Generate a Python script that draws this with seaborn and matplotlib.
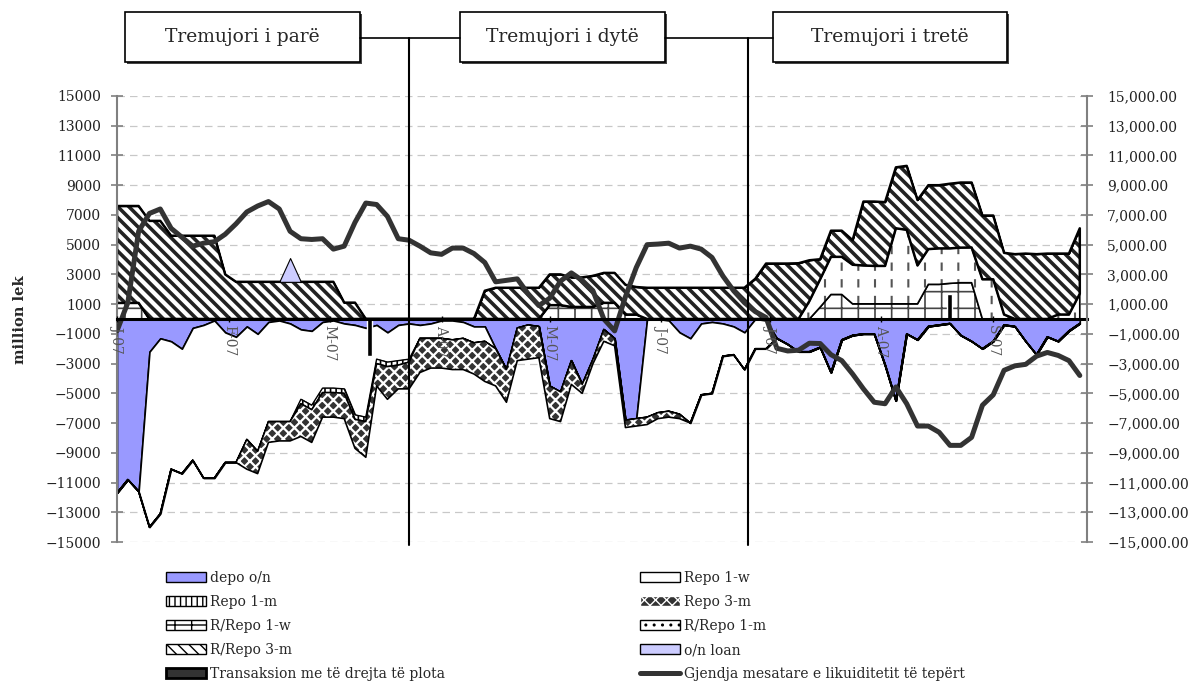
import numpy as np
import pandas as pd
import seaborn as sns
import matplotlib.pyplot as plt
import matplotlib as mpl
from matplotlib.patches import Rectangle, Patch
from matplotlib.lines import Line2D
from matplotlib.ticker import FuncFormatter

# one sample every 3 days, Jan 1 -> Sep 25 2007
dates = pd.date_range('2007-01-01', periods=90, freq='3D')

depo_on = [-11700, -10800, -11600, -2200, -1300, -1500, -2000, -600, -400, -100,
           -900, -1200, -500, -1000, -200, -100, -300, -700, -800, -200,
           -100, -300, -400, -600, -400, -900, -400, -300, -400, -300,
           -100, -100, -200, -500, -500, -2000, -3400, -600, -400, -500,
           -4500, -4900, -2800, -4400, -2700, -700, -1300, -6800, -6700, 0,
           0, -100, -900, -1300, -300, -200, -300, -500, -900, 0,
           -100, -1300, -1700, -2200, -2200, -1900, -3600, -1400, -1100, -1000,
           -1000, -3100, -5500, -1000, -1400, -500, -400, -300, -1100, -1500,
           -2000, -1500, -400, -500, -1500, -2400, -1200, -1500, -800, -300]

repo_1w = ([0, 0, 0, -11800, -11800, -8600, -8400, -8900, -10300, -10600,
            -8750, -8450, -7600, -7900, -6700, -6800, -6600, -4700, -5000, -4450,
            -4550, -4400, -6050, -6000, -2300, -2000, -2400, -2400, -900, -1000,
            -1200, -1300, -1100, -1100, -1000]
           + [0] * 14
           + [-6600, -6300, -6100, -5500, -5700, -4800, -4800, -2200, -1900, -2500,
              -2000, -1900]
           + [0] * 29)

repo_1m = [0] * 17 + [-300] * 10 + [-200] + [0] * 62

repo_3m = ([0] * 12
           + [-2000, -1500, -1400, -1300, -1300, -2200, -2200, -1650, -1650, -1700,
              -1950, -2400, -1500, -2200, -1600, -1800, -2300, -2000, -2000, -2000,
              -2100, -2100, -2700, -2500, -2200, -2200, -2300, -2100, -2200, -2000,
              -1600, -600, -300, -800, -500, -500, -500, -500, -400, -400, -300]
           + [0] * 37)

rrepo_1w = ([1080, 1080, 1080] + [0] * 37
            + [930, 930, 810, 810, 810, 1085, 1085, 300, 300]
            + [0] * 16
            + [800, 1650, 1650, 1020, 1020, 1020, 1020, 1020, 1020, 1020,
               2330, 2330, 2400, 2440, 2440]
            + [0] * 10)

rrepo_1m = ([0] * 64
            + [1200, 1870, 2530, 2530, 2630, 2580, 2550, 2550, 5080, 4980,
               2580, 2370, 2420, 2350, 2360, 2370, 2670, 2670, 300, 0,
               0, 0, 0, 300, 300, 1700])

rrepo_3m = ([6520, 6520, 6520, 6600, 6600, 5600, 5600, 5600, 5600, 5600, 3000]
            + [2500] * 10 + [1100, 1100] + [0] * 11 + [1900] + [2100] * 5
            + [2070, 2070, 1990, 1990, 2090, 2015, 2015, 2000, 1850]
            + [2100] * 10
            + [2700, 3730, 3730, 3730, 3750, 2750, 1350, 1760, 1760, 1650, 4300,
               4330, 4290, 4100, 4300, 4400, 4300, 4250, 4350, 4380, 4370,
               4290, 4290, 4150, 4360, 4400, 4360, 4400, 4100, 4100, 4400])

on_loan = [0] * 16 + [1600] + [0] * 73

gjendja = [-800, 1100, 5900, 7100, 7400, 6100, 5500, 4900, 5100, 5200,
           5700, 6400, 7200, 7600, 7900, 7400, 5900, 5400, 5350, 5400,
           4700, 4900, 6500, 7800, 7700, 6900, 5400, 5300, 4900, 4450,
           4350, 4770, 4770, 4400, 3800, 2500, 2600, 2700, 1700, 900,
           1400, 2550, 3100, 2600, 1900, 0, -800, 1500, 3460, 5000,
           5040, 5100, 4770, 4900, 4700, 4140, 2900, 1900, 1100, 500,
           100, -1970, -2150, -2100, -1630, -1650, -2400, -2800, -3700, -4700,
           -5600, -5700, -4570, -5700, -7200, -7200, -7620, -8500, -8500, -7960,
           -5800, -5100, -3450, -3150, -3050, -2500, -2250, -2450, -2800, -3800]

trans_dates = pd.to_datetime(['2007-03-12', '2007-08-20'])
trans_vals = [-2460, 1650]

month_ticks = pd.date_range('2007-01-01', '2007-09-01', freq='MS')
month_labels = ['J-07', 'F-07', 'M-07', 'A-07', 'M-07', 'J-07', 'J-07', 'A-07', 'S-07']
quarter_lines = pd.to_datetime(['2007-03-23', '2007-06-25'])
quarter_titles = ['Tremujori i parë', 'Tremujori i dytë', 'Tremujori i tretë']

df = pd.DataFrame({'date': dates, 'gjendja': gjendja})

sns.set_theme(style='white')
plt.rcParams['font.family'] = ['DejaVu Serif']
plt.rcParams['axes.unicode_minus'] = True

W, H = 1197, 689
fig = plt.figure(figsize=(W / 100, H / 100), dpi=100)
ax = fig.add_axes([117 / W, 1 - 542 / H, 970 / W, 446 / H])

x = dates
z = np.zeros(len(x))

# negative stack
n1 = np.array(depo_on, float)
n2 = n1 + np.array(repo_1w, float)
n3 = n2 + np.array(repo_1m, float)
n4 = n3 + np.array(repo_3m, float)
# positive stack
p1 = np.array(rrepo_1w, float)
p2 = p1 + np.array(rrepo_1m, float)
p3 = p2 + np.array(rrepo_3m, float)
p4 = p3 + np.array(on_loan, float)

yt = list(range(-15000, 15001, 2000))
for v in yt:
    ax.axhline(v, ls=(0, (6, 4)), color='#c8c8c8', lw=0.9, zorder=0.5)

ax.fill_between(x, z, n1, facecolor='#9999FF', edgecolor='black', lw=1.2, zorder=2)
ax.fill_between(x, n1, n2, facecolor='white', edgecolor='black', lw=1.2, zorder=2)
with mpl.rc_context({'hatch.linewidth': 1.2}):
    ax.fill_between(x, n2, n3, facecolor='white', edgecolor='black', hatch='|||', lw=1.0, zorder=2)
with mpl.rc_context({'hatch.linewidth': 1.6}):
    ax.fill_between(x, n3, n4, facecolor='#333333', edgecolor='white', hatch='xxx', lw=0, zorder=2)
ax.fill_between(x, n3, n4, facecolor='none', edgecolor='black', lw=1.2, zorder=2)

with mpl.rc_context({'hatch.linewidth': 1.2}):
    ax.fill_between(x, z, p1, facecolor='white', edgecolor='#444444', hatch='+', lw=0, zorder=2)
ax.fill_between(x, z, p1, facecolor='none', edgecolor='black', lw=1.2, zorder=2)
# R/Repo 1-m: vertical lines broken into dashes by white horizontal hatch
with mpl.rc_context({'hatch.linewidth': 1.5}):
    ax.fill_between(x, p1, p2, facecolor='white', edgecolor='#555555', hatch='|', lw=0, zorder=2)
with mpl.rc_context({'hatch.linewidth': 6.0}):
    ax.fill_between(x, p1, p2, facecolor='none', edgecolor='white', hatch='-', lw=0, zorder=2)
ax.fill_between(x, p1, p2, facecolor='none', edgecolor='black', lw=1.2, zorder=2)
with mpl.rc_context({'hatch.linewidth': 2.6}):
    ax.fill_between(x, p2, p3, facecolor='white', edgecolor='#222222', hatch='\\\\\\', lw=0, zorder=2)
ax.fill_between(x, p2, p3, facecolor='none', edgecolor='black', lw=1.8, zorder=2)
ax.fill_between(x, p3, p4, facecolor='#CCCCFF', edgecolor='black', lw=0.8, zorder=2)

ax.bar(trans_dates, trans_vals, width=1.4, color='black', zorder=3)

sns.lineplot(data=df, x='date', y='gjendja', ax=ax, color='#333333', lw=3.6, zorder=4)

ax.set_xlim(pd.Timestamp('2007-01-01'), pd.Timestamp('2007-09-27'))
ax.set_ylim(-15000, 15000)
ax.set_yticks(yt)
ax.yaxis.set_major_formatter(FuncFormatter(lambda v, p: f'{int(v)}'.replace('-', '\u2212')))
ax.set_xticks(month_ticks, labels=month_labels)
ax.set_xlabel('')
ax.set_ylabel('')
ax.grid(False)
ax.xaxis.set_zorder(5)

for s in ['top', 'right']:
    ax.spines[s].set_visible(False)
ax.spines['left'].set_color('#808080')
ax.spines['left'].set_linewidth(1.5)
ax.spines['bottom'].set_position(('data', 0))
ax.spines['bottom'].set_color('black')
ax.spines['bottom'].set_linewidth(2.2)
ax.spines['bottom'].set_zorder(5)
ax.tick_params(axis='y', direction='inout', length=9, width=1.2, color='#808080',
               labelsize=10, labelcolor='#222222', left=True, pad=7)
ax.tick_params(axis='x', direction='inout', length=5, width=1, color='black', pad=2,
               bottom=True, labelrotation=270, labelsize=10, labelcolor='#555555')

ax2 = ax.twinx()
ax2.set_ylim(-15000, 15000)
ax2.set_yticks(yt)
ax2.yaxis.set_major_formatter(FuncFormatter(lambda v, p: f'{v:,.2f}'.replace('-', '\u2212')))
for s in ['top', 'left', 'bottom']:
    ax2.spines[s].set_visible(False)
ax2.spines['right'].set_color('#808080')
ax2.spines['right'].set_linewidth(1.5)
ax2.tick_params(axis='y', direction='inout', length=9, width=1.2, color='#808080',
                labelsize=10, labelcolor='#222222', right=True, pad=10)
ax2.grid(False)

for d in quarter_lines:
    ax.axvline(d, ymin=-0.007, ymax=(542 - 38) / 446, color='black', lw=1.5,
               clip_on=False, zorder=6)

# quarter title boxes
boxes = [(125, 360), (460, 665), (773, 1007)]
for (x0, x1), t in zip(boxes, quarter_titles):
    fig.add_artist(Rectangle(((x0 + 2) / W, 1 - 64 / H), (x1 - x0) / W, 50 / H,
                             transform=fig.transFigure, fc='#444444', ec='none'))
    fig.add_artist(Rectangle((x0 / W, 1 - 62 / H), (x1 - x0) / W, 50 / H,
                             transform=fig.transFigure, fc='white', ec='black', lw=1.2))
    fig.text((x0 + x1) / 2 / W, 1 - 37 / H, t, ha='center', va='center',
             fontsize=13.5, family='DejaVu Serif')
for xa, xb in [(360, 460), (665, 773)]:
    fig.add_artist(Line2D([xa / W, xb / W], [1 - 38 / H] * 2, transform=fig.transFigure,
                          color='black', lw=1.2))

fig.text(20 / W, 1 - 320 / H, 'million lek', rotation=90, ha='center', va='center',
         fontsize=10.5, fontweight='bold')

handles = [
    Patch(fc='#9999FF', ec='black'),
    Patch(fc='white', ec='black', hatch='|||'),
    Patch(fc='white', ec='black', hatch='+'),
    Patch(fc='white', ec='black', hatch='\\\\\\'),
    Patch(fc='#333333', ec='black', lw=2),
    Patch(fc='white', ec='black'),
    Patch(fc='#333333', ec='white', hatch='xxx'),
    Patch(fc='white', ec='black', hatch='..'),
    Patch(fc='#CCCCFF', ec='black'),
    Line2D([0], [0], color='#333333', lw=3.6),
]
labels = ['depo o/n', 'Repo 1-m', 'R/Repo 1-w', 'R/Repo 3-m',
          'Transaksion me të drejta të plota',
          'Repo 1-w', 'Repo 3-m', 'R/Repo 1-m', 'o/n loan',
          'Gjendja mesatare e likuiditetit të tepërt']
fig.legend(handles, labels, ncol=2, loc='upper left', bbox_to_anchor=(166 / W, 1 - 571 / H),
           frameon=False, handlelength=2.9, handleheight=0.8, handletextpad=0.3,
           columnspacing=14.0, labelspacing=0.72, fontsize=10, borderaxespad=0, borderpad=0)

fig.savefig('out.png', dpi=100)
